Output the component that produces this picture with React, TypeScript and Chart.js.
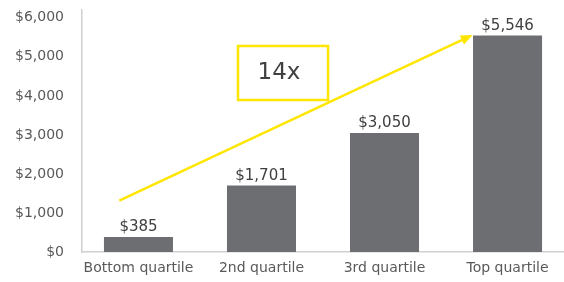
import React, { useEffect, useRef } from 'react';
import { Chart, registerables } from 'chart.js';

Chart.register(...registerables);

// ---- data ----
const categories = ['Bottom quartile', '2nd quartile', '3rd quartile', 'Top quartile'];
const values = [385, 1701, 3050, 5546];
const valueLabels = ['$385', '$1,701', '$3,050', '$5,546'];
const yTicks = [0, 1000, 2000, 3000, 4000, 5000, 6000];
const multipleLabel = '14x';

// ---- annotation anchors (data units) ----
const arrowFrom = { x: -0.156, y: 1314 };
const arrowTo = { x: 2.717, y: 5560 };
const boxFrom = { x: 0.809, y: 5278 };
const boxTo = { x: 1.541, y: 3894 };
const multipleAt = { x: 1.142, y: 4586 };

const FONT = "'DejaVu Sans', sans-serif";
const YELLOW = '#FFE600';

const annotationPlugin = {
  id: 'annot',
  afterDatasetsDraw(chart: any) {
    const { ctx } = chart;
    const xs = chart.scales.x;
    const ys = chart.scales.y;
    const meta = chart.getDatasetMeta(0);
    ctx.save();
    // value labels
    ctx.font = `15px ${FONT}`;
    ctx.fillStyle = '#404040';
    ctx.textAlign = 'center';
    ctx.textBaseline = 'alphabetic';
    meta.data.forEach((bar: any, i: number) => {
      ctx.fillText(valueLabels[i], bar.x, bar.y - 5.5);
    });
    // box
    const bx1 = xs.getPixelForValue(boxFrom.x);
    const bx2 = xs.getPixelForValue(boxTo.x);
    const by1 = ys.getPixelForValue(boxFrom.y);
    const by2 = ys.getPixelForValue(boxTo.y);
    ctx.strokeStyle = YELLOW;
    ctx.lineWidth = 2.5;
    ctx.strokeRect(bx1, by1, bx2 - bx1, by2 - by1);
    ctx.font = `23px ${FONT}`;
    ctx.fillStyle = '#404040';
    ctx.textBaseline = 'middle';
    ctx.fillText(multipleLabel, xs.getPixelForValue(multipleAt.x), ys.getPixelForValue(multipleAt.y));
    // arrow
    const x0 = xs.getPixelForValue(arrowFrom.x);
    const y0 = ys.getPixelForValue(arrowFrom.y);
    const x1 = xs.getPixelForValue(arrowTo.x);
    const y1 = ys.getPixelForValue(arrowTo.y);
    const ang = Math.atan2(y1 - y0, x1 - x0);
    const headLen = 12;
    const headW = 5;
    const bxp = x1 - headLen * Math.cos(ang);
    const byp = y1 - headLen * Math.sin(ang);
    ctx.beginPath();
    ctx.moveTo(x0, y0);
    ctx.lineTo(bxp + 1 * Math.cos(ang), byp + 1 * Math.sin(ang));
    ctx.strokeStyle = YELLOW;
    ctx.lineWidth = 2.5;
    ctx.stroke();
    ctx.beginPath();
    ctx.moveTo(x1, y1);
    ctx.lineTo(bxp - headW * Math.sin(ang), byp + headW * Math.cos(ang));
    ctx.lineTo(bxp + headW * Math.sin(ang), byp - headW * Math.cos(ang));
    ctx.closePath();
    ctx.fillStyle = YELLOW;
    ctx.fill();
    ctx.restore();
  },
};

export default function App() {
  const ref = useRef<HTMLCanvasElement>(null);
  useEffect(() => {
    document.body.style.margin = '0';
    const canvas = ref.current!;
    const chart = new Chart(canvas, {
      type: 'bar',
      data: {
        datasets: [
          {
            data: values.map((v, i) => ({ x: i, y: v })) as any,
            backgroundColor: '#6D6E71',
            categoryPercentage: 1,
            barPercentage: 0.561,
          },
        ],
      },
      options: {
        animation: false,
        responsive: false,
        devicePixelRatio: 1,
        layout: { padding: { top: 10, left: 0, right: 0, bottom: 0 } },
        plugins: { legend: { display: false }, tooltip: { enabled: false } },
        scales: {
          x: {
            type: 'linear',
            min: -0.459,
            max: 3.459,
            offset: false,
            grid: { display: false, drawTicks: false },
            border: { display: true, color: '#d0d0d0', width: 1.5 },
            afterBuildTicks: (s: any) => {
              s.ticks = categories.map((_, i) => ({ value: i }));
            },
            afterFit: (s: any) => {
              s.height = 30;
              s.paddingLeft = 0;
              s.paddingRight = 0;
            },
            ticks: {
              autoSkip: false,
              maxRotation: 0,
              padding: 8,
              color: '#595959',
              font: { family: FONT, size: 14 },
              callback: (v: any) => categories[v as number] ?? '',
            },
          },
          y: {
            min: 0,
            max: 6200,
            afterBuildTicks: (s: any) => {
              s.ticks = yTicks.map((v) => ({ value: v }));
            },
            afterFit: (s: any) => {
              s.width = 82;
              s.paddingTop = 0;
              s.paddingBottom = 0;
            },
            grid: { display: false, drawTicks: false },
            border: { display: true, color: '#d0d0d0', width: 1.5 },
            ticks: {
              padding: 18,
              color: '#595959',
              font: { family: FONT, size: 14 },
              callback: (v: any) => '$' + Number(v).toLocaleString('en-US'),
            },
          },
        },
      } as any,
      plugins: [annotationPlugin],
    });
    return () => chart.destroy();
  }, []);
  return (
    <div style={{ width: 564, height: 282 }}>
      <canvas ref={ref} width={564} height={282} style={{ display: 'block' }} />
    </div>
  );
}
